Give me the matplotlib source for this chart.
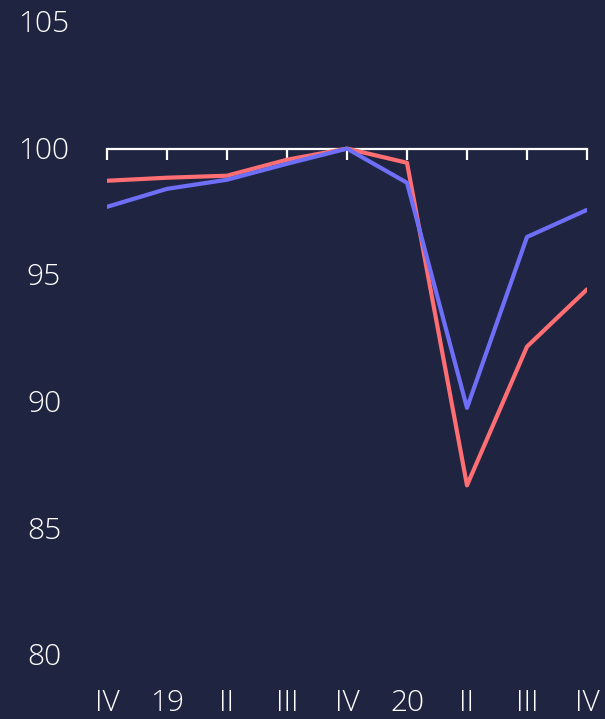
import matplotlib.pyplot as plt
from matplotlib.transforms import blended_transform_factory

quarters = ['IV', '19', 'II', 'III', 'IV', '20', 'II', 'III', 'IV']
red_series = [98.73, 98.85, 98.93, 99.56, 100.0, 99.44, 86.7, 92.18, 94.44]
blue_series = [97.70, 98.41, 98.77, 99.40, 100.0, 98.65, 89.76, 96.51, 97.58]
y_ticks = [80, 85, 90, 95, 100, 105]

bg = '#1f2540'
red = '#ff6e73'
blue = '#6e6ef7'
font = ['Open Sans', 'DejaVu Sans']

fig = plt.figure(figsize=(6.05, 7.19), dpi=100, facecolor=bg)
ax = fig.add_axes([107 / 605, 1 - 655 / 719, 480 / 605, 633 / 719])
ax.set_facecolor(bg)

x = list(range(len(quarters)))
ax.plot(x, red_series, color=red, lw=3, solid_capstyle='round', zorder=3)
ax.plot(x, blue_series, color=blue, lw=3, solid_capstyle='round', zorder=4)

ax.set_xlim(0, len(quarters) - 1)
ax.set_ylim(80, 105)

# horizontal axis line sits at 100, labels go along the bottom
for side in ['top', 'left', 'right']:
    ax.spines[side].set_visible(False)
ax.spines['bottom'].set_position(('data', 100))
ax.spines['bottom'].set_color('white')
ax.spines['bottom'].set_linewidth(1.6)
ax.spines['bottom'].set_zorder(2)
ax.set_xticks(x)
ax.tick_params(axis='x', direction='out', length=8, width=1.6, color='white', labelbottom=False)
ax.set_yticks([])

trans = blended_transform_factory(ax.transData, fig.transFigure)
for i, lab in enumerate(quarters):
    ax.text(i, 1 - 703 / 719, lab, transform=trans, ha='center', va='center',
            color='white', fontsize=21.5, fontfamily=font, fontweight='light')

ytrans = blended_transform_factory(fig.transFigure, ax.transData)
for v in y_ticks:
    ax.text(44 / 605, v - 0.1, str(v), transform=ytrans, ha='center', va='center',
            color='white', fontsize=21.5, fontfamily=font, fontweight='light')

fig.savefig('out.png', dpi=100, facecolor=bg)
